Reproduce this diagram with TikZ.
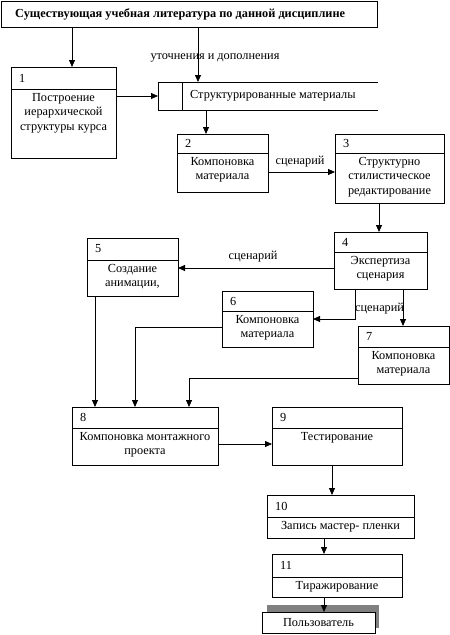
\documentclass[tikz,border=0pt]{standalone}
\usepackage{fontspec}
\setmainfont{Liberation Serif}
\usetikzlibrary{arrows.meta,calc}
\definecolor{shadowgray}{RGB}{128,128,128}
\tikzset{
  pb/.style={draw=black, line width=0.8pt, inner sep=0pt, outer sep=0pt},
  hl/.style={draw=black, line width=0.8pt},
  ln/.style={draw=black, line width=0.8pt},
  arr/.style={ln, -{Triangle[width=6pt,length=7pt]}},
  num/.style={inner sep=0pt, font=\fontsize{12.3}{14.5}\selectfont},
  body/.style={inner sep=0pt, align=center, font=\fontsize{12.3}{14.5}\selectfont},
  lbl/.style={inner sep=0pt, font=\fontsize{12.3}{14.5}\selectfont},
}
\newcommand\pbox[8]{%
  \node[pb, minimum width={(#4-#2)*1pt}, minimum height={(#5-#3)*1pt}, anchor=north west] (#1) at (#2,-#3) {};
  \draw[hl] (#2,-#6) -- (#4,-#6);
  \node[num, anchor=west] (#1n) at ({#2+8}, {-(#3+#6)/2}) {#7};
  \node[body, anchor=north] (#1t) at ({(#2+#4)/2}, {-#6-4}) {#8};
}
\begin{document}
\begin{tikzpicture}[x=1pt,y=1pt]
\useasboundingbox (0,0) rectangle (450,-635);
% top box
\node[pb, minimum width=376pt, minimum height=26pt, anchor=north west] (T) at (1,-1) {};
\node[lbl, anchor=west, font=\fontsize{12.3}{14.5}\selectfont\bfseries] (Tt) at (15,-14) {Существующая учебная литература по данной дисциплине};
% store
\node[inner sep=0pt, outer sep=0pt, minimum width=220pt, minimum height=28pt, anchor=north west] (S) at (158,-82) {};
\draw[ln] (S.north east) -- (S.north west) -- (S.south west) -- (S.south east);
\draw[ln] ([xshift=24pt]S.north west) -- ([xshift=24pt]S.south west);
\node[lbl, anchor=west] (St) at (190,-96) {Структурированные материалы};
% process boxes
\pbox{b1}{11}{67}{116}{158}{89}{1}{Построение\\иерархической\\структуры курса}
\pbox{b2}{177}{134}{268}{192}{153}{2}{Компоновка\\материала}
\pbox{b3}{335}{134}{444}{203}{153}{3}{Структурно\\стилистическое\\редактирование}
\pbox{b4}{334}{232}{427}{289}{252}{4}{Экспертиза\\сценария}
\pbox{b5}{87}{238}{178}{296}{260}{5}{Создание\\анимации,}
\pbox{b6}{222}{291}{313}{347}{311}{6}{Компоновка\\материала}
\pbox{b7}{358}{326}{449}{384}{347}{7}{Компоновка\\материала}
\pbox{b8}{72}{407}{218}{465}{428}{8}{Компоновка монтажного\\проекта}
\pbox{b9}{272}{407}{402}{465}{428}{9}{Тестирование}
\pbox{b10}{267}{495}{414}{538}{517}{10}{Запись мастер- пленки}
\pbox{b11}{272}{554}{402}{597}{577}{11}{Тиражирование}
% user box with shadow
\fill[shadowgray] (267,-605) rectangle (379,-628);
\node[pb, fill=white, minimum width=113pt, minimum height=21pt, anchor=north west] (U) at (262,-612) {};
\node[lbl] (Ut) at (U.center) {Пользователь};
% connectors
\draw[arr] ([xshift=71pt]T.south west) -- ([xshift=61pt]b1.north west);
\draw[arr] ([xshift=197pt]T.south west) -- ([xshift=40pt]S.north west);
\node[lbl] (l0) at (215,-58) {уточнения и дополнения};
\draw[arr] (b1.east |- S.west) -- (S.west);
\draw[arr] ([xshift=48pt]S.south west) -- ([xshift=29pt]b2.north west);
\draw[arr] ([yshift=-38pt]b2.north east) -- ([yshift=-38pt]b3.north west);
\node[lbl] (l1) at (300,-162) {сценарий};
\draw[arr] ([xshift=44pt]b3.south west) -- ([xshift=45pt]b4.north west);
\draw[arr] ([yshift=-36pt]b4.north west) -- ([yshift=-30pt]b5.north east);
\node[lbl] (l2) at (253,-257) {сценарий};
\draw[arr] ([xshift=21pt]b4.south west) |- ([yshift=-28pt]b6.north east);
\node[lbl, anchor=west] (l3) at (355,-309) {сценарий};
\draw[arr] ([xshift=69pt]b4.south west) -- ([xshift=45pt]b7.north west);
\draw[arr] ([xshift=8pt]b5.south west) -- ([xshift=23pt]b8.north west);
\draw[arr] ([yshift=-36pt]b6.north west) -| ([xshift=63pt]b8.north west);
\draw[arr] ([yshift=-52pt]b7.north west) -| ([xshift=117pt]b8.north west);
\draw[arr] ([yshift=-37pt]b8.north east) -- ([yshift=-37pt]b9.north west);
\draw[arr] ([xshift=60pt]b9.south west) -- ([xshift=65pt]b10.north west);
\draw[arr] ([xshift=57pt]b10.south west) -- ([xshift=52pt]b11.north west);
\draw[arr] ([xshift=52pt]b11.south west) -- ([xshift=62pt]U.north west);
\end{tikzpicture}
\end{document}
